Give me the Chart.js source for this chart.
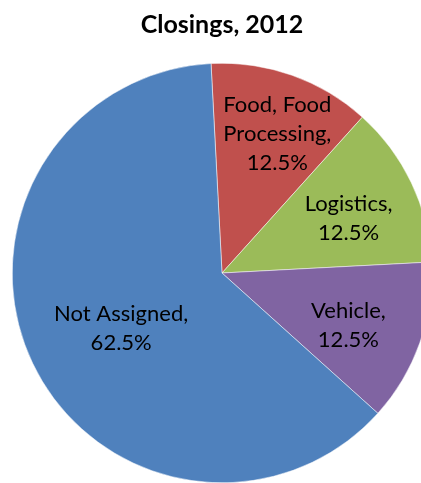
<!DOCTYPE html>
<html>
<head>
<meta charset="utf-8">
<script src="https://cdn.jsdelivr.net/npm/chart.js@4"></script>
<style>
  html, body { margin: 0; padding: 0; background: #fff; overflow: hidden; }
  #wrap { width: 421px; height: 483px; overflow: hidden; }
</style>
</head>
<body>
<div id="wrap"><canvas id="chart" width="444" height="483"></canvas></div>
<script>
const categories = ['Food, Food Processing', 'Logistics', 'Vehicle', 'Not Assigned'];
const shares = [12.5, 12.5, 12.5, 62.5];
const labelLines = [
  ['Food, Food', 'Processing,', '12.5%'],
  ['Logistics,', '12.5%'],
  ['Vehicle,', '12.5%'],
  ['Not Assigned,', '62.5%']
];
const colors = ['#C0504D', '#9BBB59', '#8064A2', '#4F81BD'];

// label placement per slice: [fraction of radius, angle shift in degrees]
const labelPlace = [[0.72, 2], [0.66, 1.6], [0.65, 2.5], [0.547, -3]];

const sliceLabels = {
  id: 'sliceLabels',
  afterDatasetsDraw(chart) {
    const ctx = chart.ctx;
    const meta = chart.getDatasetMeta(0);
    ctx.save();
    ctx.font = '22px Lato, "Open Sans", sans-serif';
    ctx.fillStyle = '#000';
    ctx.textAlign = 'center';
    ctx.textBaseline = 'middle';
    meta.data.forEach((arc, i) => {
      const p = arc.getProps(['x', 'y', 'startAngle', 'endAngle', 'outerRadius']);
      const mid = (p.startAngle + p.endAngle) / 2 + labelPlace[i][1] * Math.PI / 180;
      const r = p.outerRadius * labelPlace[i][0];
      const cx = p.x + Math.cos(mid) * r;
      const cy = p.y + Math.sin(mid) * r + 1;
      const lines = labelLines[i];
      const lh = 29;
      lines.forEach((t, k) => {
        ctx.fillText(t, cx, cy + (k - (lines.length - 1) / 2) * lh);
      });
    });
    ctx.restore();
  }
};

new Chart(document.getElementById('chart'), {
  type: 'pie',
  data: {
    labels: categories,
    datasets: [{
      data: shares,
      backgroundColor: colors,
      borderColor: '#fff',
      borderWidth: 0.5
    }]
  },
  options: {
    responsive: false,
    animation: false,
    rotation: -3,
    layout: { padding: 0 },
    plugins: {
      legend: { display: false },
      tooltip: { enabled: false },
      title: {
        display: true,
        text: 'Closings, 2012',
        color: '#000',
        font: { family: 'Lato, "Open Sans", sans-serif', size: 25, weight: 'bold', lineHeight: 1.2 },
        padding: { top: 10, bottom: 23 }
      }
    }
  },
  plugins: [sliceLabels]
});
</script>
</body>
</html>
